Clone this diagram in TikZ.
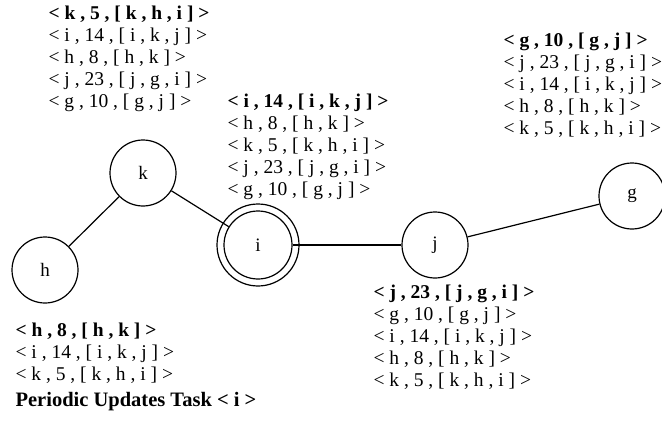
\documentclass[tikz,border=0pt]{standalone}
\usepackage{fontspec}
\setmainfont{Liberation Serif}
\usetikzlibrary{positioning}
\tikzset{
mynode/.style={
  circle,
  draw,
  line width=1.2pt,
  minimum size=66pt,
  inner sep=0pt,
  font=\fontsize{19}{22}\selectfont
  },
myroot/.style={
  mynode,
  minimum size=68pt
  },
mytable/.style={
  anchor=north west,
  inner sep=0pt,
  align=left,
  font=\fontsize{19.5}{22}\selectfont
  }
}

\begin{document}
\begin{tikzpicture}[x=1pt,y=-1pt,line width=1.2pt]
    \useasboundingbox (0,0) rectangle (662,423);
    % the routers
    \node[mynode] (k) at (143,173) {k};
    \node[mynode] (h) at (45,270) {h};
    \node[myroot] (i) at (258,245) {i};
    \node[mynode] (j) at (435,245) {j};
    \node[mynode] (g) at (632,196) {g};
    \draw (i.center) circle (41pt);
    \draw (k) -- (h);
    \draw (k) -- (i);
    \draw (i) -- (j);
    \draw (j) -- (g);
    % the tables
    \node[mytable] (tk) at (48,5) {\textbf{< k , 5 , [ k , h , i ] >}\\
        < i , 14 , [ i , k , j ] >\\
        < h , 8 , [ h , k ] >\\
        < j , 23 , [ j , g , i ] >\\
        < g , 10 , [ g , j ] >};
    \node[mytable] (ti) at (227,93) {\textbf{< i , 14 , [ i , k , j ] >}\\
        < h , 8 , [ h , k ] >\\
        < k , 5 , [ k , h , i ] >\\
        < j , 23 , [ j , g , i ] >\\
        < g , 10 , [ g , j ] >};
    \node[mytable] (tg) at (503,32) {\textbf{< g , 10 , [ g , j ] >}\\
        < j , 23 , [ j , g , i ] >\\
        < i , 14 , [ i , k , j ] >\\
        < h , 8 , [ h , k ] >\\
        < k , 5 , [ k , h , i ] >};
    \node[mytable] (tj) at (373,284) {\textbf{< j , 23 , [ j , g , i ] >}\\
        < g , 10 , [ g , j ] >\\
        < i , 14 , [ i , k , j ] >\\
        < h , 8 , [ h , k ] >\\
        < k , 5 , [ k , h , i ] >};
    \node[mytable] (th) at (15,322) {\textbf{< h , 8 , [ h , k ] >}\\
        < i , 14 , [ i , k , j ] >\\
        < k , 5 , [ k , h , i ] >};
    \node[mytable,font=\fontsize{20.5}{22}\selectfont] (title) at (15,392) {\textbf{Periodic Updates Task < i >}};
\end{tikzpicture}
\end{document}
